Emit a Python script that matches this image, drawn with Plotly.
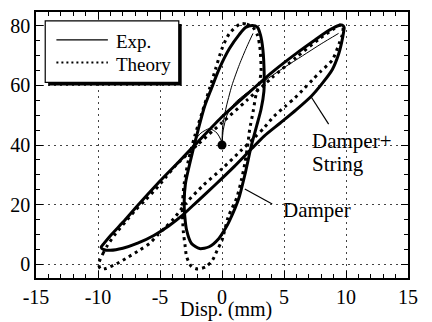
import plotly.graph_objects as go

# ---------------- data ----------------
# Damper+String loop, experiment (upper branch then lower branch)
ds_exp_x = [-9.75, -9.5, -9.0, -8.0, -6.8, -5.2, -3.5, -2.0, 0.0, 2.0, 4.2, 6.0, 7.5, 8.5, 9.3, 9.7, 9.85,
            9.8, 9.65, 9.4, 8.9, 8.1, 7.2, 6.0, 4.7, 3.4, 2.4, 1.0, -0.5, -2.0, -3.3, -4.3, -5.5, -6.8, -8.0, -9.0, -9.5, -9.75]
ds_exp_f = [5.6, 7.0, 9.5, 14.0, 19.7, 27.0, 34.3, 40.8, 49.5, 57.0, 65.0, 70.8, 75.3, 78.2, 80.0, 80.3, 79.5,
            77.8, 74.5, 70.5, 65.4, 60.8, 56.4, 51.9, 47.4, 43.0, 38.8, 32.8, 26.8, 21.0, 16.0, 12.8, 9.6, 7.0, 5.3, 4.6, 4.8, 5.6]

# Damper+String loop, theory
ds_th_x = [-9.95, -9.6, -9.23, -8.58, -7.8, -7.0, -6.23, -5.33, -4.55, -3.76, -2.0, 0.0, 2.0, 4.0, 6.0, 7.8, 9.0, 9.5, 9.75,
           9.7, 9.5, 8.9, 7.95, 7.3, 6.65, 5.87, 5.1, 4.2, 3.4, 2.6, 1.5, 0.0, -1.5, -2.9, -3.9, -4.55, -5.2, -5.84,
           -6.63, -7.54, -8.45, -9.36, -9.8, -9.95]
ds_th_f = [0.0, 3.5, 6.3, 10.2, 14.1, 18.0, 21.3, 25.2, 29.1, 33.0, 40.0, 47.5, 55.0, 62.5, 69.5, 75.5, 79.0, 80.3, 80.0,
           77.0, 74.7, 68.6, 64.7, 61.9, 59.1, 55.8, 53.0, 49.7, 45.8, 42.4, 38.0, 32.0, 26.5, 20.5, 15.2, 12.4, 9.7, 6.9,
           4.7, 2.4, 0.2, -1.5, -1.6, 0.0]

# Damper loop, experiment
d_exp_x = [2.45, 2.85, 3.1, 3.3, 3.4, 3.38, 3.15, 2.8, 2.35, 1.9, 1.35, 0.6, 0.27, -0.25, -1.03, -1.81, -2.46, -2.85,
           -3.0, -3.05, -2.95, -2.5, -1.95, -1.4, -0.85, -0.2, 0.6, 1.4, 1.9, 2.45]
d_exp_f = [80.2, 79.6, 77.0, 72.0, 64.0, 58.0, 52.0, 46.5, 39.5, 31.0, 22.0, 14.5, 11.9, 8.6, 5.8, 5.2, 6.9, 11.3,
           16.0, 21.0, 27.0, 35.5, 44.7, 53.0, 59.0, 65.8, 72.4, 77.2, 79.5, 80.2]

# Damper loop, theory
d_th_x = [1.5, 2.0, 2.5, 2.85, 3.05, 3.15, 3.0, 2.75, 2.5, 2.23, 2.1, 1.85, 1.55, 1.2, 0.5, 0.0, -0.38, -0.77, -1.29,
          -1.94, -2.46, -2.85, -2.98, -3.12, -3.2, -3.05, -2.7, -2.2, -1.6, -1.0, -0.5, 0.0, 0.6, 1.5]
d_th_f = [80.8, 80.6, 79.5, 77.0, 73.0, 65.0, 60.5, 57.0, 51.0, 45.2, 40.8, 34.0, 28.0, 22.4, 15.8, 8.0, 4.7, 1.3, -0.9,
          -1.7, -0.9, 2.4, 6.3, 11.0, 19.0, 27.0, 35.0, 43.0, 51.0, 59.0, 65.8, 72.4, 77.5, 80.8]

# start-up transients of the experiments (thin lines)
tr_ds_x = [0.0, 0.1, 0.4, 1.0, 2.0, 3.4, 5.0, 6.5, 8.0, 9.4]
tr_ds_f = [40.0, 45.0, 50.0, 54.0, 57.5, 61.5, 66.0, 70.0, 74.0, 77.5]
tr_d_x = [0.0, 0.05, 0.3, 0.8, 1.4, 2.0, 2.5]
tr_d_f = [40.0, 46.0, 52.0, 60.0, 67.0, 73.0, 77.5]
tr_w_x = [0.0, -0.4, -1.0, -1.7, -2.3]
tr_w_f = [41.0, 44.0, 45.5, 44.0, 41.0]

start_x = [0.0]
start_f = [40.0]

x_ticks = [-15, -10, -5, 0, 5, 10, 15]
x_tick_text = ["-15", "-10", "-5", "0", "5", "10", "15"]
y_ticks = [0, 20, 40, 60, 80]
y_tick_text = ["0", "20", "40", "60", "80"]

# ---------------- figure ----------------
FONT = "Liberation Serif, Times New Roman, serif"
fig = go.Figure()

def add_line(x, y, width, dash="solid", name=None, smoothing=0.7):
    fig.add_trace(go.Scatter(x=x, y=y, mode="lines", name=name, showlegend=False,
                             line=dict(color="black", width=width, dash=dash,
                                       shape="spline", smoothing=smoothing),
                             hoverinfo="skip"))

add_line(ds_th_x, ds_th_f, 3, dash="3px,4px", name="Theory")
add_line(d_th_x, d_th_f, 3, dash="3px,4px", name="Theory")
add_line(tr_ds_x, tr_ds_f, 1, name="Exp.")
add_line(tr_d_x, tr_d_f, 1, name="Exp.")
add_line(tr_w_x, tr_w_f, 1, name="Exp.")
add_line(ds_exp_x, ds_exp_f, 3, name="Exp.")
add_line(d_exp_x, d_exp_f, 3, name="Exp.")
fig.add_trace(go.Scatter(x=start_x, y=start_f, mode="markers", showlegend=False,
                         marker=dict(color="black", size=9), hoverinfo="skip"))

L, R, T, B = 25, 24, 10, 44
W, H = 432, 322
pw, ph = W - L - R, H - T - B

def px(xp):
    return (xp - L) / pw

def py(yp):
    return (H - B - yp) / ph

shapes = []
# legend box with shadow
shapes.append(dict(type="rect", xref="paper", yref="paper", x0=px(37.5), x1=px(175), y0=py(84), y1=py(22),
                   fillcolor="black", line=dict(width=0)))
shapes.append(dict(type="rect", xref="paper", yref="paper", x0=px(34.5), x1=px(172), y0=py(81), y1=py(19),
                   fillcolor="white", line=dict(color="black", width=1.2)))
shapes.append(dict(type="line", xref="paper", yref="paper", x0=px(46), x1=px(99), y0=py(38), y1=py(38),
                   line=dict(color="black", width=1.3)))
shapes.append(dict(type="line", xref="paper", yref="paper", x0=px(46), x1=px(99), y0=py(61), y1=py(61),
                   line=dict(color="black", width=2, dash="2px,3px")))
# leader lines
shapes.append(dict(type="line", xref="x", yref="y", x0=7.17, y0=56.3, x1=8.6, y1=47.0,
                   line=dict(color="black", width=1.2)))
shapes.append(dict(type="line", xref="x", yref="y", x0=1.84, y0=25.2, x1=4.05, y1=20.2,
                   line=dict(color="black", width=1.2)))

annotations = [
    dict(text="Exp.", xref="paper", yref="paper", x=px(105), y=py(40), xanchor="left", yanchor="middle",
         showarrow=False, font=dict(family=FONT, size=19, color="black")),
    dict(text="Theory", xref="paper", yref="paper", x=px(105), y=py(63), xanchor="left", yanchor="middle",
         showarrow=False, font=dict(family=FONT, size=19, color="black")),
    dict(text="Damper+", xref="x", yref="y", x=7.1, y=41.5, xanchor="left", yanchor="middle",
         showarrow=False, font=dict(family=FONT, size=21, color="black")),
    dict(text="String", xref="x", yref="y", x=7.1, y=33.5, xanchor="left", yanchor="middle",
         showarrow=False, font=dict(family=FONT, size=21, color="black")),
    dict(text="Damper", xref="x", yref="y", x=4.75, y=18.0, xanchor="left", yanchor="middle",
         showarrow=False, font=dict(family=FONT, size=21, color="black")),
    dict(text="Disp. (mm)", xref="paper", yref="paper", x=px(220.5), y=py(310), xanchor="center", yanchor="middle",
         showarrow=False, font=dict(family=FONT, size=20, color="black")),
]

axis_common = dict(showline=True, linecolor="black", linewidth=1.5, mirror="ticks",
                   ticks="inside", ticklen=7, tickwidth=1, tickcolor="black",
                   showgrid=True, gridcolor="#444", gridwidth=1, griddash="2px,4px",
                   zeroline=False, tickfont=dict(family=FONT, size=20, color="black"))

fig.update_layout(
    width=W, height=H, margin=dict(l=L, r=R, t=T, b=B, pad=0),
    paper_bgcolor="white", plot_bgcolor="white", showlegend=False,
    shapes=shapes, annotations=annotations,
    xaxis=dict(range=[-15, 15], tickvals=x_ticks, ticktext=x_tick_text,
               minor=dict(dtick=1, ticklen=4, ticks="inside", tickcolor="black", showgrid=False),
               **axis_common),
    yaxis=dict(range=[-4.7, 84.7], tickvals=y_ticks, ticktext=y_tick_text,
               minor=dict(dtick=5, ticklen=4, ticks="inside", tickcolor="black", showgrid=False),
               **axis_common),
)

fig.write_html("out.html")
